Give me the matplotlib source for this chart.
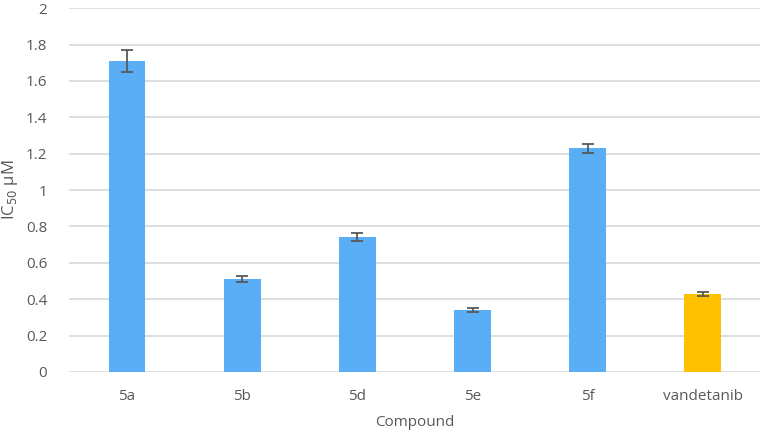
import numpy as np
import matplotlib.pyplot as plt

# IC50 values
compounds = ['5a', '5b', '5d', '5e', '5f', 'vandetanib']
ic50 = [1.71, 0.51, 0.74, 0.34, 1.23, 0.43]
err = [0.06, 0.015, 0.022, 0.012, 0.025, 0.01]
colors = ['#5AAEF6'] * 5 + ['#FFC000']

plt.rcParams['font.family'] = ['Open Sans', 'DejaVu Sans']

fig = plt.figure(figsize=(7.61, 4.32), dpi=100)
ax = fig.add_axes([0.0913, 0.139, 0.908, 0.842])

x = np.arange(len(compounds))
ax.bar(x, ic50, width=0.32, color=colors, zorder=3,
       yerr=err, error_kw=dict(ecolor='#595959', elinewidth=1.3, capsize=4, capthick=1.3, zorder=4))

ax.set_xlim(-0.5, len(compounds) - 0.5)
ax.set_ylim(0, 2)
ax.set_yticks(np.arange(0, 2.01, 0.2))
ax.set_yticklabels(['0', '0.2', '0.4', '0.6', '0.8', '1', '1.2', '1.4', '1.6', '1.8', '2'])
ax.set_xticks(x)
ax.set_xticklabels(compounds)
ax.grid(axis='y', color='#D9D9D9', linewidth=1.2, zorder=0)
for s in ax.spines.values():
    s.set_visible(False)
ax.tick_params(length=0, colors='#595959', labelsize=11)
ax.tick_params(axis='x', pad=12)
ax.tick_params(axis='y', pad=16)

ax.set_xlabel('Compound', color='#595959', fontsize=11, labelpad=8)
ax.set_ylabel('IC$_{50}$ µM', color='#595959', fontsize=12, labelpad=4)

fig.savefig('out.png', dpi=100)
